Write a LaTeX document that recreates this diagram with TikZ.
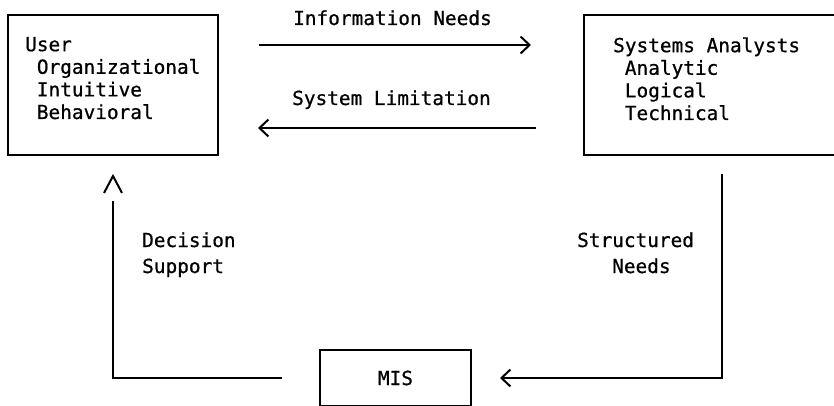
\documentclass[tikz,border=0pt]{standalone}
\usepackage{fontspec}
\setmainfont{DejaVu Sans Mono}[FakeBold=0.7]
\usetikzlibrary{arrows.meta}
\newcommand\ind{\hspace*{0.602em}}
\tikzset{
  box/.style={draw, line width=2pt, inner sep=0pt},
  txt/.style={inner sep=0pt, align=left, anchor=base west,
    font={\fontsize{19.4}{22.6}\selectfont}},
  lbl/.style={inner sep=0pt, align=left, anchor=base west,
    font={\fontsize{19.4}{26}\selectfont}},
  conn/.style={line width=2pt},
  arr/.style={conn, -{Straight Barb[length=9pt, width=17pt, line width=2pt]}},
}
\begin{document}
\begin{tikzpicture}[x=1pt, y=-1pt]
\useasboundingbox (0,0) rectangle (834,406);
% boxes
\node[box, minimum width=210pt, minimum height=140pt] (user) at (113,85) {};
\node[box, minimum width=276pt, minimum height=140pt] (sa) at (722,85) {};
\node[box, minimum width=151pt, minimum height=56pt,
  font={\fontsize{19.4}{22.6}\selectfont}] (mis) at (395.5,378) {MIS};
% box texts (base anchor = baseline of the last line)
\node[txt] (usertext) at (25,119) {User\\\ind Organizational\\\ind Intuitive\\\ind Behavioral};
\node[txt] (satext) at (613,120) {Systems Analysts\\\ind Analytic\\\ind Logical\\\ind Technical};
% labels
\node[txt] (infolbl) at (293,25) {Information Needs};
\node[txt] (limlbl) at (292,105) {System Limitation};
\node[lbl] (declbl) at (142,273) {Decision\\Support};
\node[lbl] (strlbl) at (577,273) {Structured\\\ind\ind\ind Needs};
% connectors
\draw[arr, shorten <=40pt, shorten >=52pt] ([yshift=40pt]user.east) -- ([yshift=40pt]sa.west);
\draw[arr, shorten <=47pt, shorten >=39pt] ([yshift=-43pt]sa.west) -- ([yshift=-43pt]user.east);
\draw[arr, shorten <=18pt, shorten >=28pt] (sa.south) |- (mis.east);
\draw[conn, shorten <=37pt, shorten >=45pt] (mis.west) -| (user.south);
\draw[conn] ([shift={(-9pt,-37pt)}]user.south) -- ([yshift=-20pt]user.south) -- ([shift={(9pt,-37pt)}]user.south);
\end{tikzpicture}
\end{document}
